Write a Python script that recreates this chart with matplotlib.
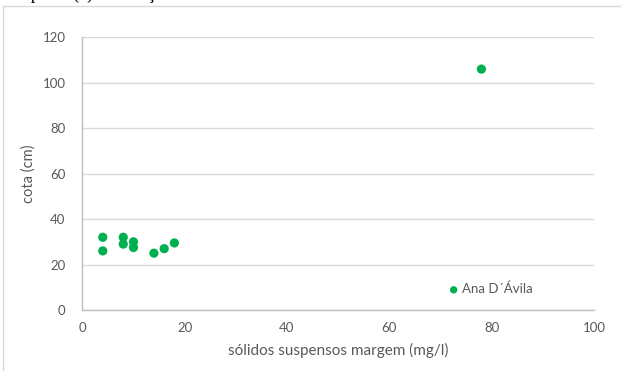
import matplotlib
matplotlib.use("Agg")
import matplotlib.pyplot as plt
from matplotlib.lines import Line2D

# Suspended solids at the bank (mg/l) vs. stage (cm) at Ana D´Ávila
solidos = [4, 4, 8, 8, 10, 10, 14, 16, 18, 78]
cota = [32, 26, 32, 29, 30, 27.5, 25, 27, 29.5, 106]
serie = "Ana D´Ávila"

x_ticks = [0, 20, 40, 60, 80, 100]
y_ticks = [0, 20, 40, 60, 80, 100, 120]

W, H = 621, 371
fig = plt.figure(figsize=(W / 100, H / 100), dpi=100)
fig.patch.set_facecolor("white")

# caption of the document text running above the chart frame
fig.text(-12 / W, 1 + 1 / H, "de resposta (c) na estação Ana D´Ávila",
         family="Liberation Serif", fontsize=13, color="black",
         ha="left", va="baseline")

# chart frame
frame_col = "#D9D9D9"
fig.add_artist(Line2D([3 / W, 1.0], [1 - 6 / H, 1 - 6 / H], transform=fig.transFigure,
                      color=frame_col, lw=1))
fig.add_artist(Line2D([3 / W, 3 / W], [0, 1 - 6 / H], transform=fig.transFigure,
                      color=frame_col, lw=1))

ax = fig.add_axes([82.3 / W, 1 - 310 / H, (594 - 82.3) / W, (310 - 37.3) / H])
green = "#00B050"
ax.scatter(solidos, cota, s=44, color=green, edgecolors="none", zorder=3, label=serie)

ax.set_xlim(0, 100)
ax.set_ylim(0, 120)
ax.set_xticks(x_ticks)
ax.set_yticks(y_ticks)
ax.grid(axis="y", color="#D9D9D9", lw=1)
ax.set_axisbelow(True)

for side in ("top", "right"):
    ax.spines[side].set_visible(False)
for side in ("left", "bottom"):
    ax.spines[side].set_color("#BFBFBF")
    ax.spines[side].set_linewidth(1)

font = "Lato"
tick_col = "#595959"
ax.tick_params(length=0, labelsize=9.5, labelcolor=tick_col)
ax.tick_params(axis="y", pad=12)
ax.tick_params(axis="x", pad=9)
for lab in ax.get_xticklabels() + ax.get_yticklabels():
    lab.set_family(font)

ax.set_xlabel("sólidos suspensos margem (mg/l)", family=font, fontsize=11,
              color=tick_col, labelpad=6)
ax.set_ylabel("cota (cm)", family=font, fontsize=10.5, color=tick_col, labelpad=5)

leg = ax.legend(loc="lower left", bbox_to_anchor=(0.70, 0.02), frameon=False,
                handlelength=0.6, handletextpad=0.3, borderpad=0.2,
                markerscale=0.8, prop={"family": font, "size": 9.5})
for t in leg.get_texts():
    t.set_color(tick_col)

fig.savefig("out.png", dpi=100, facecolor="white")
